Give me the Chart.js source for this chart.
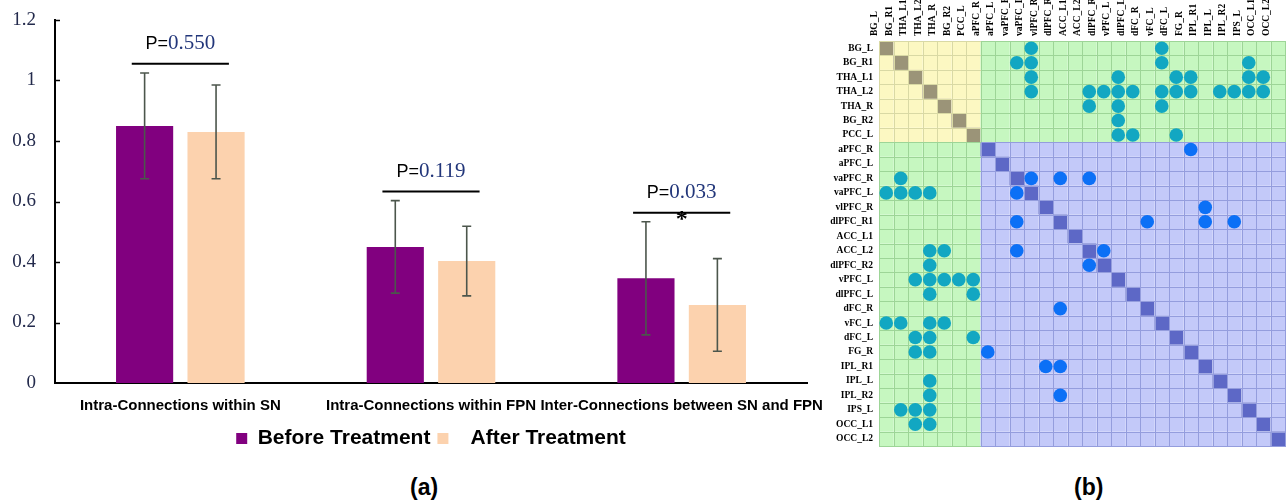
<!DOCTYPE html>
<html>
<head>
<meta charset="utf-8">
<title>Connectivity before and after treatment</title>
<script src="https://cdn.jsdelivr.net/npm/chart.js@4.4.1/dist/chart.umd.min.js"></script>
<style>
  body { margin: 0; background: #fff; }
  .wrap { position: relative; width: 1287px; height: 502px; overflow: hidden; }
  #barChart { position: absolute; left: 0; top: 0; }
  #matChart { position: absolute; left: 830px; top: 0; }
  .panel { position: absolute; top: 474px; font: bold 23px "Liberation Sans", Arial, sans-serif; color: #000; }
</style>
</head>
<body>
<div class="wrap">
  <canvas id="barChart" width="830" height="460"></canvas>
  <canvas id="matChart" width="457" height="460"></canvas>
  <div class="panel" style="left:410px">(a)</div>
  <div class="panel" style="left:1074px">(b)</div>
</div>
<script>
// ---- panel (a) data ----
var categories = ['Intra-Connections within SN', 'Intra-Connections within FPN', 'Inter-Connections between SN and FPN'];
var beforeMean = [0.850, 0.450, 0.346];
var beforeErr  = [0.175, 0.153, 0.187];
var afterMean  = [0.830, 0.403, 0.258];
var afterErr   = [0.155, 0.115, 0.153];
var pValues    = [0.550, 0.119, 0.033];
var yTicks     = [0, 0.2, 0.4, 0.6, 0.8, 1, 1.2];

// ---- panel (b) data ----
var snNodes  = ['BG_L', 'BG_R1', 'THA_L1', 'THA_L2', 'THA_R', 'BG_R2', 'PCC_L'];
var fpnNodes = ['aPFC_R', 'aPFC_L', 'vaPFC_R', 'vaPFC_L', 'vlPFC_R', 'dlPFC_R1', 'ACC_L1', 'ACC_L2', 'dlPFC_R2',
                'vPFC_L', 'dlPFC_L', 'dFC_R', 'vFC_L', 'dFC_L', 'FG_R', 'IPL_R1', 'IPL_L', 'IPL_R2', 'IPS_L', 'OCC_L1', 'OCC_L2'];
// significant connections between SN and FPN
var snFpnEdges = [
  ['BG_L', 'vaPFC_L'], ['BG_L', 'vFC_L'],
  ['BG_R1', 'vaPFC_R'], ['BG_R1', 'vaPFC_L'], ['BG_R1', 'vFC_L'], ['BG_R1', 'IPS_L'],
  ['THA_L1', 'vaPFC_L'], ['THA_L1', 'vPFC_L'], ['THA_L1', 'dFC_L'], ['THA_L1', 'FG_R'], ['THA_L1', 'IPS_L'], ['THA_L1', 'OCC_L1'],
  ['THA_L2', 'vaPFC_L'], ['THA_L2', 'ACC_L2'], ['THA_L2', 'dlPFC_R2'], ['THA_L2', 'vPFC_L'], ['THA_L2', 'dlPFC_L'], ['THA_L2', 'vFC_L'],
  ['THA_L2', 'dFC_L'], ['THA_L2', 'FG_R'], ['THA_L2', 'IPL_L'], ['THA_L2', 'IPL_R2'], ['THA_L2', 'IPS_L'], ['THA_L2', 'OCC_L1'],
  ['THA_R', 'ACC_L2'], ['THA_R', 'vPFC_L'], ['THA_R', 'vFC_L'],
  ['BG_R2', 'vPFC_L'],
  ['PCC_L', 'vPFC_L'], ['PCC_L', 'dlPFC_L'], ['PCC_L', 'dFC_L']
];
// significant connections within FPN
var fpnEdges = [
  ['aPFC_R', 'FG_R'], ['vaPFC_R', 'vaPFC_L'], ['vaPFC_R', 'dlPFC_R1'], ['vaPFC_R', 'ACC_L2'],
  ['vlPFC_R', 'IPL_R1'], ['dlPFC_R1', 'dFC_R'], ['dlPFC_R1', 'IPL_R1'], ['dlPFC_R1', 'IPL_R2'], ['ACC_L2', 'dlPFC_R2']
];

var nodes = snNodes.concat(fpnNodes);

Chart.defaults.animation = false;
Chart.defaults.plugins.tooltip.enabled = false;

// no automatic label padding, the layout padding decides the plot area
var noPad = function(scale) {
  scale.paddingTop = scale.paddingBottom = scale.paddingLeft = scale.paddingRight = 0;
};

// error bars, brackets with p values, inner y ticks
var annotatePlugin = {
  id: 'annotate',
  afterDatasetsDraw: function(chart) {
    var ctx = chart.ctx, ys = chart.scales.y, area = chart.chartArea;
    var sets = chart.data.datasets;
    ctx.save();
    // error bars
    ctx.strokeStyle = '#4c564c';
    ctx.lineWidth = 1.6;
    sets.forEach(function(ds, d) {
      chart.getDatasetMeta(d).data.forEach(function(bar, i) {
        var hi = ys.getPixelForValue(ds.data[i] + ds.errors[i]);
        var lo = ys.getPixelForValue(ds.data[i] - ds.errors[i]);
        ctx.beginPath();
        ctx.moveTo(bar.x, hi); ctx.lineTo(bar.x, lo);
        ctx.moveTo(bar.x - 4.5, hi); ctx.lineTo(bar.x + 4.5, hi);
        ctx.moveTo(bar.x - 4.5, lo); ctx.lineTo(bar.x + 4.5, lo);
        ctx.stroke();
      });
    });
    // brackets
    var b0 = chart.getDatasetMeta(0).data, b1 = chart.getDatasetMeta(1).data;
    pValues.forEach(function(p, i) {
      var top = Math.max(sets[0].data[i] + sets[0].errors[i], sets[1].data[i] + sets[1].errors[i]);
      var ly = ys.getPixelForValue(top + 0.03);
      var cx = (b0[i].x + b1[i].x) / 2;
      var half = 0.68 * (b1[i].x - b0[i].x);
      ctx.strokeStyle = '#000';
      ctx.lineWidth = 2;
      ctx.beginPath();
      ctx.moveTo(cx - half, ly); ctx.lineTo(cx + half, ly);
      ctx.stroke();

      var fontP = '18px "Liberation Sans"', fontN = '21px "Liberation Serif"';
      var num = p.toFixed(3);
      ctx.font = fontP; var wp = ctx.measureText('P=').width;
      ctx.font = fontN; var wn = ctx.measureText(num).width;
      var x0 = cx - (wp + wn) / 2;
      ctx.textBaseline = 'alphabetic';
      ctx.textAlign = 'left';
      ctx.font = fontP; ctx.fillStyle = '#000';
      ctx.fillText('P=', x0, ly - 15);
      ctx.font = fontN; ctx.fillStyle = '#22367a';
      ctx.fillText(num, x0 + wp, ly - 15);
      if (p < 0.05) {
        ctx.font = 'bold 24px "Liberation Serif"';
        ctx.fillStyle = '#000';
        ctx.textAlign = 'center';
        ctx.textBaseline = 'middle';
        ctx.fillText('*', cx, ly + 7);
      }
    });
    // small inward ticks on the y axis
    ctx.strokeStyle = '#000';
    ctx.lineWidth = 1.5;
    yTicks.forEach(function(v) {
      if (v === 0) return;
      var py = Math.round(ys.getPixelForValue(v)) + 0.5;
      ctx.beginPath();
      ctx.moveTo(area.left, py); ctx.lineTo(area.left + 5, py);
      ctx.stroke();
    });
    ctx.restore();
  }
};

var barChart = new Chart(document.getElementById('barChart'), {
  type: 'bar',
  data: {
    labels: categories,
    datasets: [{
      label: 'Before Treatment',
      data: beforeMean,
      errors: beforeErr,
      backgroundColor: '#81007f',
      borderWidth: 0,
      categoryPercentage: 0.57,
      barPercentage: 0.8
    }, {
      label: '  After Treatment',
      data: afterMean,
      errors: afterErr,
      backgroundColor: '#fcd2ae',
      borderWidth: 0,
      categoryPercentage: 0.57,
      barPercentage: 0.8
    }]
  },
  options: {
    responsive: false,
    layout: { autoPadding: false, padding: { top: 20, right: 23, left: 0, bottom: 1 } },
    scales: {
      x: {
        grid: { display: false, drawTicks: false },
        border: { display: true, color: '#000', width: 2 },
        ticks: {
          color: '#000',
          padding: 14,
          font: { family: '"Liberation Sans"', size: 15, weight: 'bold' },
          maxRotation: 0,
          autoSkip: false
        },
        afterFit: function(scale) { scale.height = 38; noPad(scale); }
      },
      y: {
        min: 0,
        max: 1.2,
        grid: { display: false, drawTicks: false },
        border: { display: true, color: '#000', width: 2 },
        afterBuildTicks: function(scale) {
          scale.ticks = yTicks.map(function(v) { return { value: v }; });
        },
        ticks: {
          color: '#232a4c',
          padding: 19,
          font: { family: '"Liberation Serif"', size: 19 },
          callback: function(v) { return String(+v.toFixed(1)); }
        },
        afterFit: function(scale) { scale.width = 55; noPad(scale); }
      }
    },
    plugins: {
      legend: {
        position: 'bottom',
        fullSize: false,
        labels: {
          boxWidth: 11,
          boxHeight: 11,
          padding: 7,
          color: '#000',
          font: { family: '"Liberation Sans"', size: 21, weight: 'bold' }
        }
      }
    }
  },
  plugins: [annotatePlugin]
});

// ---- panel (b): connectivity matrix ----
var nSn = snNodes.length;
var blockOf = function(i, j) {
  if (i < nSn && j < nSn) return 'sn';
  if (i >= nSn && j >= nSn) return 'fpn';
  return 'mix';
};
var cellFill = { sn: '#fcf8c2', mix: '#c6f7c0', fpn: '#c3c9f9' };
var cellLine = { sn: '#d9d9a4', mix: '#9dd597', fpn: '#949ddd' };
var diagFill = { sn: '#9b9478', fpn: '#5d68c6' };

var cellPlugin = {
  id: 'cells',
  beforeDatasetsDraw: function(chart) {
    var ctx = chart.ctx, xs = chart.scales.x, ys = chart.scales.y;
    var w = Math.abs(xs.getPixelForValue(1) - xs.getPixelForValue(0));
    var h = Math.abs(ys.getPixelForValue(1) - ys.getPixelForValue(0));
    ctx.save();
    nodes.forEach(function(rn, i) {
      nodes.forEach(function(cn, j) {
        var b = blockOf(i, j);
        var x0 = xs.getPixelForValue(j) - w / 2, y0 = ys.getPixelForValue(i) - h / 2;
        ctx.fillStyle = i === j ? diagFill[b] : cellFill[b];
        ctx.fillRect(x0, y0, w, h);
      });
    });
    ctx.lineWidth = 1;
    nodes.forEach(function(rn, i) {
      nodes.forEach(function(cn, j) {
        var b = blockOf(i, j);
        var x0 = Math.round(xs.getPixelForValue(j) - w / 2) + 0.5;
        var y0 = Math.round(ys.getPixelForValue(i) - h / 2) + 0.5;
        var x1 = Math.round(xs.getPixelForValue(j) + w / 2) + 0.5;
        var y1 = Math.round(ys.getPixelForValue(i) + h / 2) + 0.5;
        ctx.strokeStyle = cellLine[b];
        ctx.strokeRect(x0, y0, x1 - x0, y1 - y0);
      });
    });
    ctx.restore();
  }
};

var edgePoints = function(edges) {
  var pts = [];
  edges.forEach(function(e) {
    var a = nodes.indexOf(e[0]), b = nodes.indexOf(e[1]);
    pts.push({ x: b, y: a });
    pts.push({ x: a, y: b });
  });
  return pts;
};

var nodeTicks = function(scale) {
  scale.ticks = nodes.map(function(n, i) { return { value: i }; });
};
var nodeFont = { family: '"Liberation Serif"', size: 9.5, weight: 'bold' };

var matChart = new Chart(document.getElementById('matChart'), {
  type: 'scatter',
  data: {
    datasets: [{
      label: 'SN-FPN',
      data: edgePoints(snFpnEdges),
      backgroundColor: '#12a7c2',
      borderWidth: 0,
      pointRadius: 6.8
    }, {
      label: 'FPN-FPN',
      data: edgePoints(fpnEdges),
      backgroundColor: '#0c70f6',
      borderWidth: 0,
      pointRadius: 6.8
    }]
  },
  options: {
    responsive: false,
    layout: { autoPadding: false, padding: { top: 0, right: 2, left: 0, bottom: 14 } },
    scales: {
      x: {
        type: 'linear',
        position: 'top',
        min: -0.5,
        max: nodes.length - 0.5,
        grid: { display: false, drawTicks: false },
        border: { display: false },
        afterBuildTicks: nodeTicks,
        ticks: {
          autoSkip: false,
          minRotation: 90,
          maxRotation: 90,
          padding: 5,
          color: '#000',
          font: nodeFont,
          callback: function(v) { return nodes[v]; }
        },
        afterFit: function(scale) { scale.height = 41; noPad(scale); }
      },
      y: {
        type: 'linear',
        reverse: true,
        min: -0.5,
        max: nodes.length - 0.5,
        grid: { display: false, drawTicks: false },
        border: { display: false },
        afterBuildTicks: nodeTicks,
        ticks: {
          autoSkip: false,
          padding: 6,
          color: '#000',
          font: nodeFont,
          callback: function(v) { return nodes[v]; }
        },
        afterFit: function(scale) { scale.width = 49; noPad(scale); }
      }
    },
    plugins: { legend: { display: false } }
  },
  plugins: [cellPlugin]
});
</script>
</body>
</html>
